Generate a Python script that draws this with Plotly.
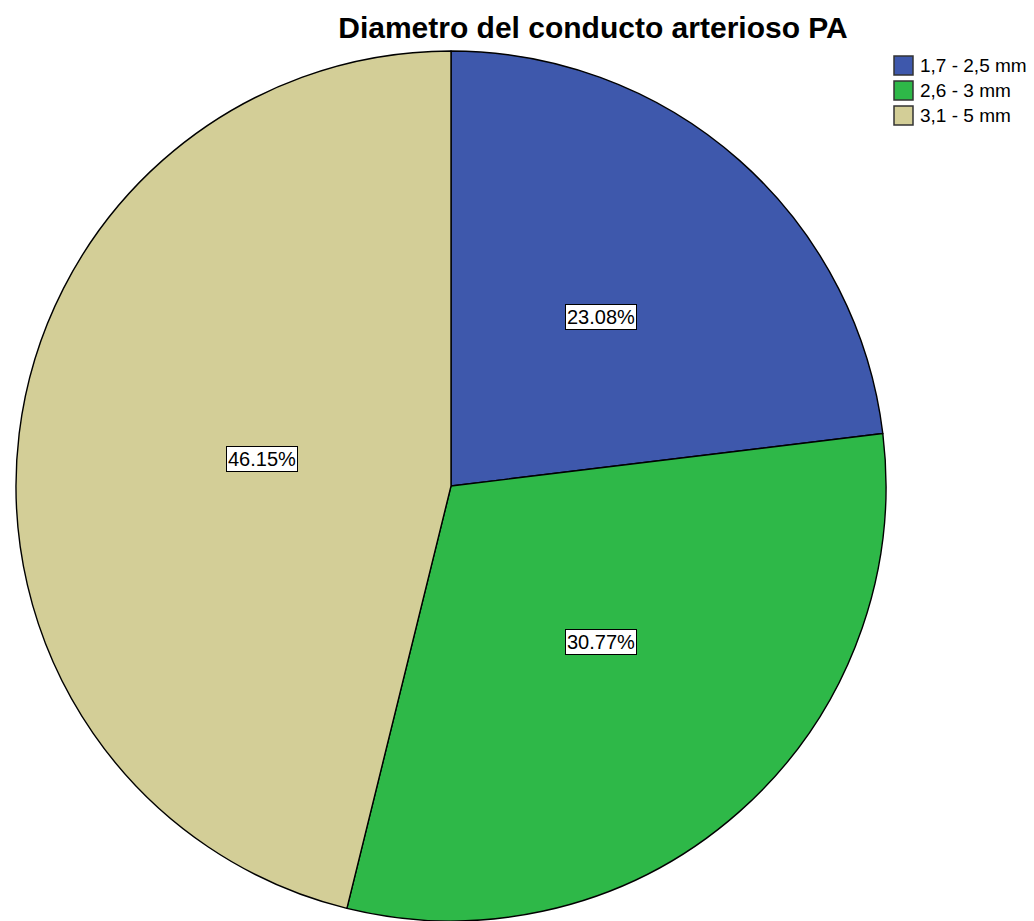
import math
import plotly.graph_objects as go

# Frequency of each ductus diameter class
categories = ["1,7 - 2,5 mm", "2,6 - 3 mm", "3,1 - 5 mm"]
counts = [3, 4, 6]
colors = ["#3E58AC", "#2EB848", "#D3CE97"]

W, H = 1034, 921
# pie placement in pixels
cx, top, r = 451, 51, 435

fig = go.Figure()
fig.add_trace(go.Pie(
    labels=categories,
    values=counts,
    sort=False,
    direction="clockwise",
    rotation=0,
    marker=dict(colors=colors, line=dict(color="#000000", width=1.4)),
    textinfo="none",
    hoverinfo="label+percent",
    showlegend=False,
    domain=dict(x=[(cx - r) / W, (cx + r) / W], y=[1 - (top + 2 * r) / H, 1 - top / H]),
))

FONT = "Liberation Sans, Arial, sans-serif"

# Boxed percentage labels about half-way out along each slice's mid-angle
total = sum(counts)
cy = top + r
start = 0.0
for v in counts:
    frac = v / total
    mid = (start + frac / 2) * 2 * math.pi
    start += frac
    px = cx + 0.52 * r * math.sin(mid)
    py = cy - 0.52 * r * math.cos(mid)
    fig.add_annotation(
        x=px / W, y=1 - py / H, xref="paper", yref="paper",
        text=f"{frac * 100:.2f}%", showarrow=False,
        font=dict(family=FONT, size=20, color="#000000"),
        bgcolor="#FFFFFF", bordercolor="#000000", borderwidth=1, borderpad=1,
    )

# Legend: square swatches with category names
lx, ly0, step, sw = 894, 56, 25, 19
for i, (name, col) in enumerate(zip(categories, colors)):
    y0 = ly0 + i * step
    fig.add_shape(
        type="rect", xref="paper", yref="paper",
        x0=lx / W, x1=(lx + sw) / W, y0=1 - y0 / H, y1=1 - (y0 + sw) / H,
        fillcolor=col, line=dict(color="#333333", width=1.5),
    )
    fig.add_annotation(
        x=(lx + sw + 5) / W, y=1 - (y0 + sw / 2) / H, xref="paper", yref="paper",
        xanchor="left", yanchor="middle", text=name, showarrow=False,
        font=dict(family=FONT, size=19, color="#000000"),
    )

fig.update_layout(
    width=W, height=H,
    margin=dict(l=0, r=0, t=0, b=0),
    paper_bgcolor="#FFFFFF",
    showlegend=False,
    title=dict(
        text="<b>Diametro del conducto arterioso PA</b>",
        x=593 / W, xanchor="center", y=1 - 27 / H, yanchor="middle",
        font=dict(family=FONT, size=30, color="#000000"),
    ),
)

fig.write_html("out.html")
